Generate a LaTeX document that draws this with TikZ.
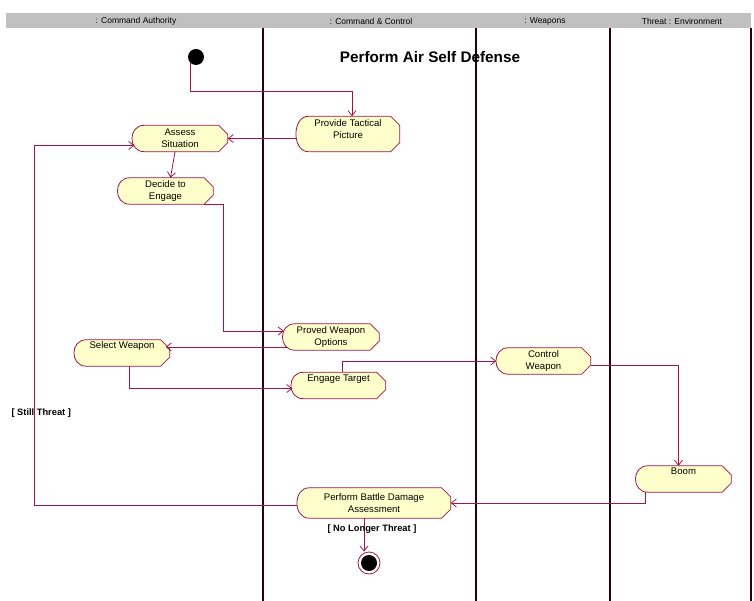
\documentclass[tikz,border=0pt]{standalone}
\usepackage{fontspec}
\setmainfont{Liberation Sans}
\usetikzlibrary{arrows.meta,backgrounds}
\definecolor{flowred}{HTML}{A0164A}
\definecolor{actfill}{HTML}{FFFFCC}
\definecolor{hdrgray}{HTML}{C0C0C0}
\definecolor{lanedark}{HTML}{2A0010}
% activity outline: rounded left end, pointed right end;
% optional argument lengthens the box below its text
\newcommand\actoutline[2][0pt]{%
  \filldraw[actline]
    ([xshift=12pt,yshift=-#1]#2.south west)
    .. controls ([xshift=-4.5pt,yshift=-#1]#2.south west) and ([xshift=-4.5pt]#2.north west) ..
    ([xshift=12pt]#2.north west)
    -- ([xshift=-9pt]#2.north east)
    -- ([yshift=-9pt]#2.north east)
    -- ([yshift=9pt-#1]#2.south east)
    -- ([xshift=-9pt,yshift=-#1]#2.south east) -- cycle;}
\begin{document}
\begin{tikzpicture}[x=1pt,y=-1pt,
  act/.style={rectangle, inner sep=0pt, minimum height=26pt, align=center,
    font=\fontsize{9.6}{12}\selectfont},
  actline/.style={draw=flowred, fill=actfill, line width=0.8pt},
  flow/.style={draw=flowred, line width=0.8pt,
    -{Straight Barb[length=5pt,width=8pt]}},
  lanesep/.style={draw=lanedark, line width=1.3pt},
  hdrtext/.style={font=\fontsize{8.5}{9}\selectfont},
  guard/.style={font=\bfseries\fontsize{9.3}{11}\selectfont}]
\useasboundingbox (0,0) rectangle (754,601);

% swimlane headers
\fill[hdrgray] (6,13) rectangle (751,28);
\node[hdrtext] (h1) at (136,21.5) {: Command Authority};
\node[hdrtext] (h2) at (371,21.5) {: Command \& Control};
\node[hdrtext] (h3) at (545,21.5) {: Weapons};
\node[hdrtext] (h4) at (682,21.5) {Threat : Environment};

% swimlane separators
\draw[lanesep] (263,28) -- (263,601);
\draw[lanesep] (476,28) -- (476,601);
\draw[lanesep] (610,28) -- (610,601);
\draw[lanesep] (751,28) -- (751,601);

% title
\node[font=\bfseries\fontsize{15.3}{17}\selectfont] (title) at (430,57) {Perform Air Self Defense};

% start and end states
\node[circle, fill=black, minimum size=16pt, inner sep=0pt] (start) at (196,57) {};
\node[circle, draw=flowred, line width=0.8pt, minimum size=22pt, inner sep=0pt] (end) at (369,563) {};
\fill[black] (end.center) circle (8pt);

% activities
\node[act, minimum width=103pt] (ptp) at (348,129.5) {Provide Tactical\\Picture};
\node[act, minimum width=95pt] (as) at (180,138.5) {Assess\\Situation};
\node[act, minimum width=95pt] (dte) at (165.5,191) {Decide to\\Engage};
\node[act, minimum width=96pt] (pwo) at (331,337) {Proved Weapon\\Options};
\node[act, minimum width=95pt] (sw) at (122,353) {Select Weapon\\\strut};
\node[act, minimum width=94pt] (et) at (338.5,385.5) {Engage Target\\\strut};
\node[act, minimum width=94pt] (cw) at (543.5,361) {Control\\Weapon};
\node[act, minimum width=95pt] (boom) at (683.5,479) {Boom\\\strut};
\node[act, minimum width=153pt, minimum height=30pt] (pbda) at (374,503) {Perform Battle Damage\\Assessment};

\begin{pgfonlayer}{background}
  \actoutline[9pt]{ptp}
  \foreach \n in {as,dte,pwo,sw,et,cw,boom,pbda} {\actoutline{\n}}
\end{pgfonlayer}

% transitions
\draw[flow] (start.225) |- ([xshift=4pt]ptp.north |- 0,91) -- ([xshift=4pt]ptp.north);
\draw[flow] (ptp.west |- as.east) -- (as.east);
\draw[flow] ([xshift=-5pt]as.south) -- ([xshift=5pt]dte.north);
\draw[flow] ([xshift=38pt]dte.south) -- ([xshift=58pt]dte.south) |- ([yshift=6pt,xshift=1pt]pwo.west);
\draw[flow] ([yshift=-10pt,xshift=4pt]pwo.west) -- ([yshift=-10pt,xshift=-4pt]pwo.west -| sw.east);
\draw[flow] ([xshift=7pt]sw.south) |- ([yshift=-3pt,xshift=1pt]et.west);
\draw[flow] ([xshift=4pt]et.north) |- (cw.west);
\draw[flow] ([yshift=-4pt]cw.east) -| ([xshift=-5pt]boom.north);
\draw[flow] ([xshift=-38pt]boom.south) |- (pbda.east);
\draw[flow] ([yshift=-2pt]pbda.west) -- ([yshift=-2pt]pbda.west -| 34,0) |- ([yshift=-7pt,xshift=2pt]as.west);
\draw[flow] ([xshift=-10pt]pbda.south) -- ([xshift=-10pt]pbda.south |- end.north);

% guard conditions
\node[guard, anchor=west] (g1) at (8,413) {[ Still Threat ]};
\node[guard] (g2) at (372,529) {[ No Longer Threat ]};
\end{tikzpicture}
\end{document}
